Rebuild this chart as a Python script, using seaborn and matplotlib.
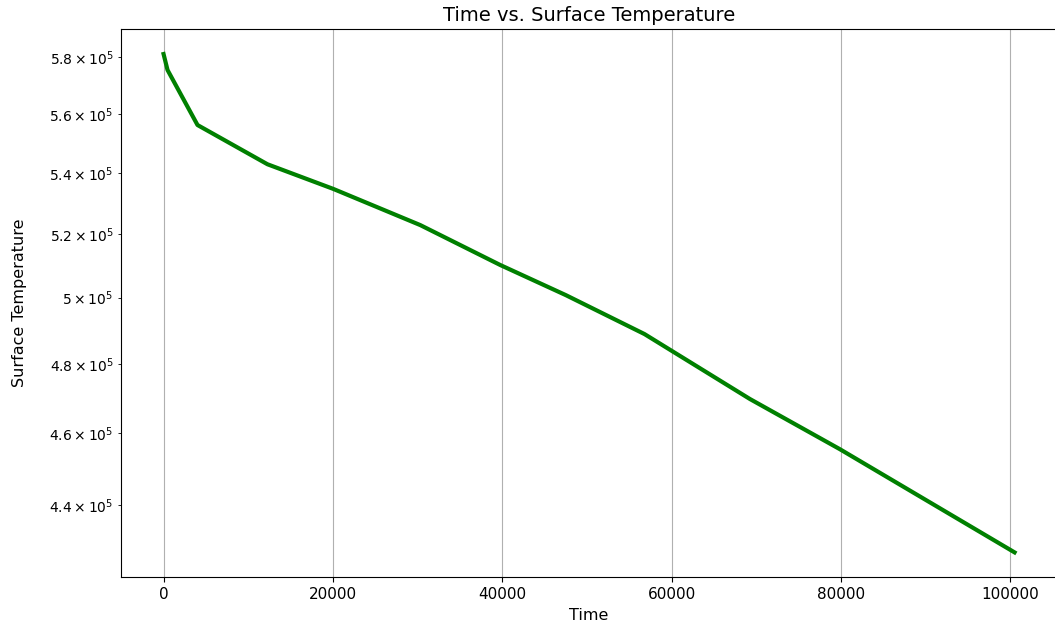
import pandas as pd
import seaborn as sns
import matplotlib.pyplot as plt

# values
time = [0, 470, 4010, 12270, 20050, 30320, 39750, 47500, 56800, 69250, 79860, 100500]
surface_temp = [5.811e5, 5.754e5, 5.562e5, 5.429e5, 5.347e5, 5.229e5, 5.102e5, 5.008e5,
                4.889e5, 4.697e5, 4.554e5, 4.273e5]

df = pd.DataFrame({"Time": time, "Surface Temperature": surface_temp})

fig, ax = plt.subplots(figsize=(10.55, 6.33), dpi=100)
fig.subplots_adjust(left=0.1147, right=1.002, top=0.954, bottom=0.088)

sns.lineplot(data=df, x="Time", y="Surface Temperature", color="green", linewidth=3, ax=ax)
ax.set_yscale("log")
ax.grid(axis="x", color="#b0b0b0", linewidth=0.8)
ax.tick_params(labelsize=11)
ax.set_xlabel("Time", fontsize=11.5)
ax.set_ylabel("Surface Temperature", fontsize=11.5, labelpad=16)
ax.set_title("Time vs. Surface Temperature", fontsize=14)

fig.savefig("out.png")
